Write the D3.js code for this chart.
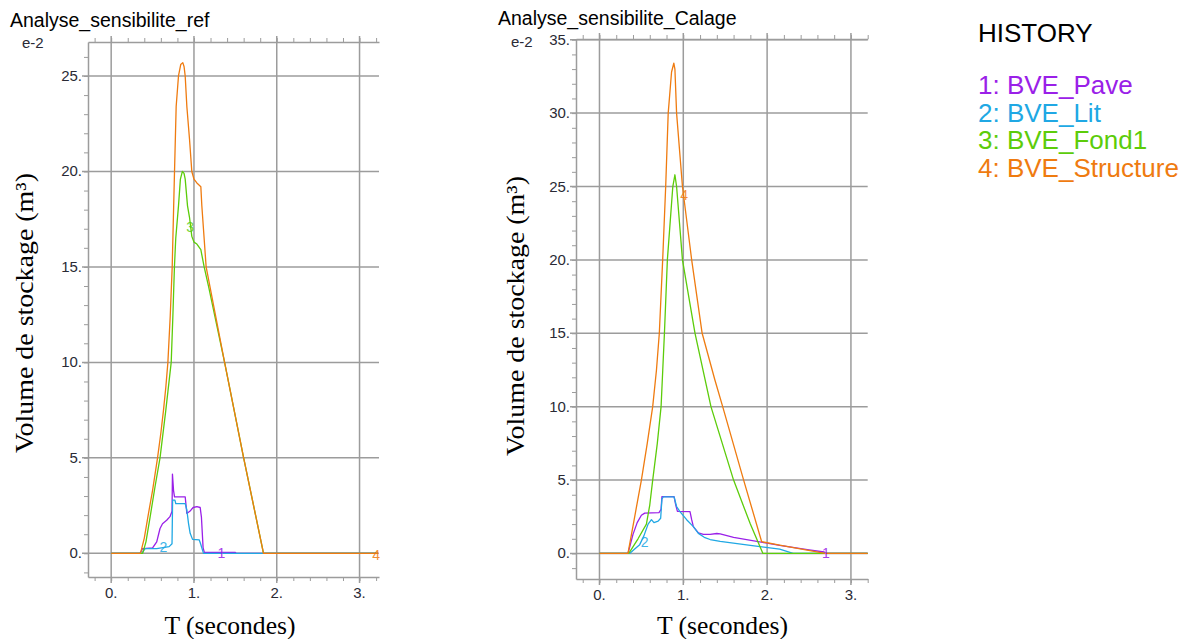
<!DOCTYPE html>
<html>
<head>
<meta charset="utf-8">
<script src="https://cdn.jsdelivr.net/npm/d3@7"></script>
<style>
  html, body { margin: 0; padding: 0; background: #ffffff; }
  svg { display: block; }
</style>
</head>
<body>
<script>
// ---------------- DATA ----------------
const seriesNames = ["1: BVE_Pave", "2: BVE_Lit", "3: BVE_Fond1", "4: BVE_Structure"];
const seriesColors = ["#9a20e8", "#20a8e4", "#5ccc0a", "#ef7b10"];
const xTickValues = [0, 1, 2, 3];
const xTickLabels = ["0.", "1.", "2.", "3."];
const yTicksRef = [0, 5, 10, 15, 20, 25];
const yTicksCal = [0, 5, 10, 15, 20, 25, 30, 35];

// Analyse_sensibilite_ref  ([T (s), volume (e-2 m3)])
const refPave = [[0,0],[0.35,0],[0.38,0.25],[0.50,0.28],[0.55,0.6],[0.59,1.3],[0.62,1.55],[0.67,1.73],[0.71,1.92],[0.735,2.2],[0.74,4.15],[0.753,3.3],[0.765,2.96],[0.894,2.96],[0.914,2.09],[0.95,2.2],[0.99,2.4],[1.035,2.44],[1.075,2.4],[1.09,1.9],[1.11,0.3],[1.125,0.05],[1.50,0.05],[1.51,0],[3.22,0]];
const refLit = [[0,0],[0.37,0],[0.41,0.25],[0.55,0.25],[0.70,0.35],[0.735,0.5],[0.742,2.79],[0.77,2.79],[0.78,2.6],[0.894,2.6],[0.914,2.27],[0.934,1.57],[0.954,1.05],[0.983,0.73],[1.064,0.7],[1.08,0.5],[1.115,0],[3.22,0]];
const refFond1 = [[0,0],[0.38,0],[0.42,0.6],[0.47,1.9],[0.53,3.5],[0.59,5.0],[0.66,7.5],[0.725,10.0],[0.745,12.4],[0.764,15.0],[0.78,16.5],[0.813,18.2],[0.836,19.6],[0.86,20.0],[0.88,19.9],[0.894,19.6],[0.922,18.2],[0.946,17.6],[0.974,16.6],[1.0,16.3],[1.035,16.2],[1.083,15.9],[1.123,15.0],[1.18,13.9],[1.37,10.0],[1.60,5.0],[1.84,0],[3.22,0]];
const refStructure = [[0,0],[0.35,0],[0.36,0.1],[0.40,0.8],[0.443,1.9],[0.50,3.3],[0.56,5.0],[0.60,6.3],[0.632,7.5],[0.66,8.7],[0.685,10.0],[0.713,12.4],[0.737,15.0],[0.765,20.0],[0.785,23.4],[0.813,25.0],[0.84,25.6],[0.865,25.7],[0.88,25.5],[0.894,25.0],[0.914,23.4],[0.946,21.7],[0.974,20.0],[1.0,19.6],[1.035,19.4],[1.083,19.2],[1.095,18.2],[1.147,15.0],[1.37,10.0],[1.60,5.0],[1.84,0],[3.22,0]];
const refLabels = [["1",1.33,0.0],["2",0.63,0.33],["3",0.955,17.1],["4",3.2,-0.1]];

// Analyse_sensibilite_Calage
const calPave = [[0,0],[0.34,0],[0.40,1.3],[0.45,2.1],[0.50,2.6],[0.54,2.75],[0.71,2.78],[0.735,3.0],[0.745,3.87],[0.89,3.87],[0.91,3.3],[0.93,2.87],[1.08,2.85],[1.10,2.3],[1.12,1.83],[1.18,1.4],[1.24,1.3],[1.32,1.3],[1.40,1.36],[1.44,1.33],[1.6,1.1],[2.0,0.7],[2.15,0.55],[2.5,0.25],[2.68,0.1],[2.70,0],[3.2,0]];
const calLit = [[0,0],[0.36,0],[0.42,0.3],[0.48,0.6],[0.53,1.2],[0.58,2.0],[0.62,2.3],[0.65,2.1],[0.70,2.2],[0.73,2.4],[0.745,3.7],[0.76,3.85],[0.89,3.85],[0.92,3.2],[0.96,2.85],[1.04,2.3],[1.12,1.83],[1.18,1.37],[1.25,1.1],[1.32,0.95],[1.44,0.82],[1.8,0.55],[2.15,0.3],[2.31,0],[3.2,0]];
const calFond1 = [[0,0],[0.35,0],[0.46,1.0],[0.56,2.0],[0.60,3.3],[0.635,5.0],[0.69,7.5],[0.735,10.0],[0.755,12.5],[0.775,15.0],[0.81,20.0],[0.875,25.0],[0.90,25.8],[0.92,25.0],[0.99,20.0],[1.14,15.0],[1.33,10.0],[1.60,5.0],[1.80,2.0],[1.95,0],[3.2,0]];
const calStructure = [[0,0],[0.34,0],[0.42,2.5],[0.50,5.0],[0.57,7.5],[0.635,10.0],[0.68,12.5],[0.714,15.0],[0.754,20.0],[0.79,25.0],[0.82,30.0],[0.86,32.8],[0.887,33.4],[0.90,33.0],[0.92,30.0],[0.99,25.0],[1.10,20.0],[1.225,15.0],[1.378,11.8],[1.47,10.0],[1.72,5.0],[1.935,0.8],[2.15,0.57],[2.69,0],[3.2,0]];
const calLabels = [["4",1.01,24.4],["2",0.54,0.8],["1",2.70,0.0]];

// ---------------- DRAWING ----------------
const W = 1193, H = 639;
const svg = d3.select("body").append("svg").attr("width", W).attr("height", H)
  .style("font-family", "'Liberation Sans', Arial, sans-serif");

const GRID = "#9c9c9c";
const TICKTXT = "#2a2a35";

function panel(cfg) {
  const x = d3.scaleLinear().domain(cfg.xDomain).range([cfg.left, cfg.right]);
  const y = d3.scaleLinear().domain(cfg.yDomain).range([cfg.bottom, cfg.top]);
  const g = svg.append("g");

  // title
  g.append("text").attr("x", cfg.titleX).attr("y", cfg.titleY)
    .attr("font-size", 19.5).attr("fill", "#000").text(cfg.title);

  // grid lines
  g.append("g").selectAll("line.vg").data(xTickValues).join("line")
    .attr("x1", d => x(d)).attr("x2", d => x(d))
    .attr("y1", cfg.top - 6).attr("y2", cfg.bottom + 6)
    .attr("stroke", GRID).attr("stroke-width", 1.5);
  g.append("g").selectAll("line.hg").data(cfg.yTicks).join("line")
    .attr("x1", cfg.left - 6).attr("x2", cfg.right)
    .attr("y1", d => y(d)).attr("y2", d => y(d))
    .attr("stroke", GRID).attr("stroke-width", 1.5);

  // minor ticks via d3 axes
  const xMinor = d3.range(-0.2, cfg.xDomain[1] + 0.001, 0.2).map(v => +v.toFixed(2));
  const yMinor = d3.range(Math.ceil(cfg.yDomain[0]), cfg.yDomain[1] + 0.001, 1);

  const styleAxis = sel => {
    sel.selectAll("path.domain").attr("stroke", GRID).attr("stroke-width", 1.5);
    sel.selectAll(".tick line").attr("stroke", GRID).attr("stroke-width", 1);
  };

  g.append("g").attr("transform", `translate(0,${cfg.bottom})`)
    .call(d3.axisBottom(x).tickValues(xMinor).tickSize(4).tickSizeOuter(0).tickFormat(""))
    .call(styleAxis);
  g.append("g").attr("transform", `translate(0,${cfg.top})`)
    .call(d3.axisTop(x).tickValues(xMinor).tickSize(4).tickSizeOuter(0).tickFormat(""))
    .call(styleAxis);
  g.append("g").attr("transform", `translate(${cfg.left},0)`)
    .call(d3.axisLeft(y).tickValues(yMinor).tickSize(4).tickSizeOuter(0).tickFormat(""))
    .call(styleAxis);

  // tick labels
  g.append("g").selectAll("text").data(xTickValues).join("text")
    .attr("x", d => x(d)).attr("y", cfg.bottom + 21)
    .attr("text-anchor", "middle").attr("font-size", 15).attr("fill", TICKTXT)
    .text((d, i) => xTickLabels[i]);
  g.append("g").selectAll("text").data(cfg.yTicks).join("text")
    .attr("x", cfg.left - 6).attr("y", d => y(d) + 5)
    .attr("text-anchor", "end").attr("font-size", 15).attr("fill", TICKTXT)
    .text(d => d + ".");
  g.append("text").attr("x", cfg.expX).attr("y", cfg.expY)
    .attr("font-size", 15).attr("fill", TICKTXT).text("e-2");

  // axis titles
  g.append("text")
    .attr("transform", `translate(${cfg.yLabelX},${cfg.yLabelY}) rotate(-90)`)
    .attr("text-anchor", "middle")
    .attr("font-family", "'Liberation Serif', 'Times New Roman', serif")
    .attr("font-size", 25).attr("fill", "#000")
    .attr("textLength", 280).attr("lengthAdjust", "spacingAndGlyphs")
    .text("Volume de stockage (m³)");
  g.append("text").attr("x", cfg.xLabelX).attr("y", 634)
    .attr("text-anchor", "middle")
    .attr("font-family", "'Liberation Serif', 'Times New Roman', serif")
    .attr("font-size", 25).attr("fill", "#000")
    .attr("textLength", 131).attr("lengthAdjust", "spacingAndGlyphs")
    .text("T (secondes)");

  // series
  const line = d3.line().x(d => x(d[0])).y(d => y(d[1]));
  g.append("g").selectAll("path").data(cfg.series).join("path")
    .attr("d", d => line(d)).attr("fill", "none")
    .attr("stroke", (d, i) => seriesColors[i]).attr("stroke-width", 1.3)
    .attr("stroke-linejoin", "round");

  // curve id labels
  g.append("g").selectAll("text").data(cfg.labels).join("text")
    .attr("x", d => x(d[1])).attr("y", d => y(d[2]) + 5)
    .attr("text-anchor", "middle").attr("font-size", 14)
    .attr("fill", d => seriesColors[+d[0] - 1])
    .attr("opacity", 0.85)
    .text(d => d[0]);
}

panel({
  title: "Analyse_sensibilite_ref", titleX: 10, titleY: 26.5,
  left: 88, right: 379, top: 42, bottom: 577,
  xDomain: [-0.28, 3.235], yDomain: [-1.24, 26.78],
  yTicks: yTicksRef, expX: 22, expY: 48,
  yLabelX: 33, yLabelY: 313, xLabelX: 230,
  series: [refPave, refLit, refFond1, refStructure],
  labels: refLabels
});

panel({
  title: "Analyse_sensibilite_Calage", titleX: 498, titleY: 24.5,
  left: 576, right: 867.7, top: 39, bottom: 579,
  xDomain: [-0.28, 3.2], yDomain: [-1.74, 35.05],
  yTicks: yTicksCal, expX: 511, expY: 47,
  yLabelX: 524, yLabelY: 316, xLabelX: 722.5,
  series: [calPave, calLit, calFond1, calStructure],
  labels: calLabels
});

// legend
const leg = svg.append("g");
leg.append("text").attr("x", 978).attr("y", 41.5).attr("font-size", 26)
  .attr("fill", "#000").text("HISTORY");
leg.selectAll("text.item").data(seriesNames).join("text")
  .attr("class", "item")
  .attr("x", 978).attr("y", (d, i) => 94 + i * 27.6)
  .attr("font-size", 26).attr("fill", (d, i) => seriesColors[i])
  .text(d => d);
</script>
</body>
</html>
